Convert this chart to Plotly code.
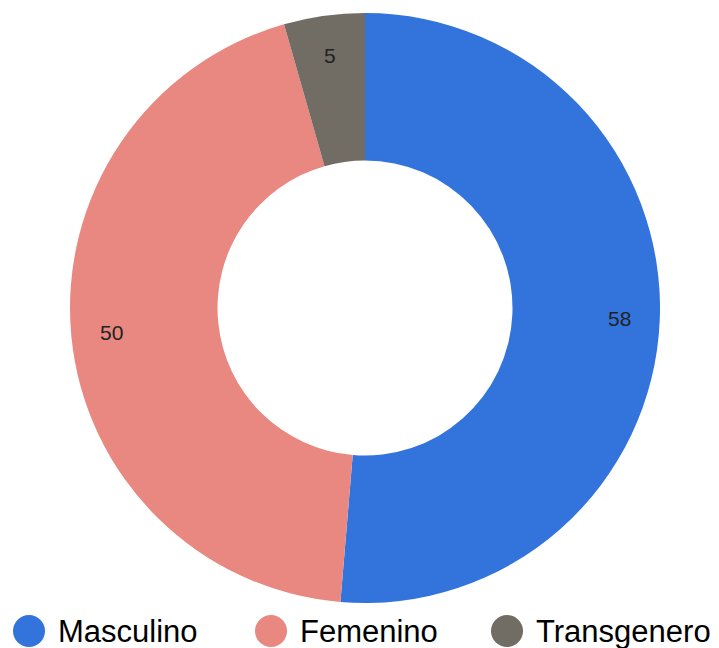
import math
import plotly.graph_objects as go

# ---- data ----
categories = ["Masculino", "Femenino", "Transgenero"]
values = [58, 50, 5]
colors = ["#3374dc", "#e88880", "#716c64"]

# ---- layout constants (pixels, page has an 8px body margin) ----
OFF = 8
W, H = 719 - OFF, 648 - OFF
CX, CY, R_OUT = 365 - OFF, 308 - OFF, 295
HOLE = 0.5
LABEL_R = 255
LEGEND_Y = 631 - OFF
LEGEND_MARK_X = [x - OFF for x in [29, 271, 507]]
LEGEND_TEXT_X = [x - OFF for x in [56, 298, 534]]

fig = go.Figure()

fig.add_trace(go.Pie(
    labels=categories, values=values, sort=False, direction="clockwise",
    rotation=0, hole=HOLE, textinfo="none", hoverinfo="label+value",
    marker=dict(colors=colors, line=dict(width=0)),
    showlegend=False,
    domain=dict(x=[(CX - R_OUT) / W, (CX + R_OUT) / W],
                y=[(H - (CY + R_OUT)) / H, (H - (CY - R_OUT)) / H]),
))

# slice value labels, positioned from the data
total = sum(values)
cum = 0
annotations = []
for v in values:
    mid = (cum + v / 2) / total * 2 * math.pi
    annotations.append(dict(
        x=CX + LABEL_R * math.sin(mid), y=CY - LABEL_R * math.cos(mid),
        xref="x", yref="y", text=str(v), showarrow=False,
        xanchor="center", yanchor="middle",
        font=dict(family="Liberation Sans, Arial, sans-serif", size=21, color="#222222"),
    ))
    cum += v

# custom legend
fig.add_trace(go.Scatter(
    x=LEGEND_MARK_X, y=[LEGEND_Y] * len(categories), mode="markers",
    marker=dict(size=32, color=colors, symbol="circle", line=dict(width=0)),
    hoverinfo="skip", showlegend=False, cliponaxis=False,
))
for tx, name in zip(LEGEND_TEXT_X, categories):
    annotations.append(dict(
        x=tx, y=LEGEND_Y, xref="x", yref="y", text=name, showarrow=False,
        xanchor="left", yanchor="middle",
        font=dict(family="Liberation Sans, Arial, sans-serif", size=31, color="#000000"),
    ))

fig.update_layout(
    width=W, height=H, autosize=False,
    margin=dict(l=0, r=0, t=0, b=0),
    paper_bgcolor="white", plot_bgcolor="rgba(0,0,0,0)",
    xaxis=dict(range=[0, W], visible=False, fixedrange=True),
    yaxis=dict(range=[H, 0], visible=False, fixedrange=True),
    showlegend=False,
    annotations=annotations,
)

fig.write_html("out.html")
